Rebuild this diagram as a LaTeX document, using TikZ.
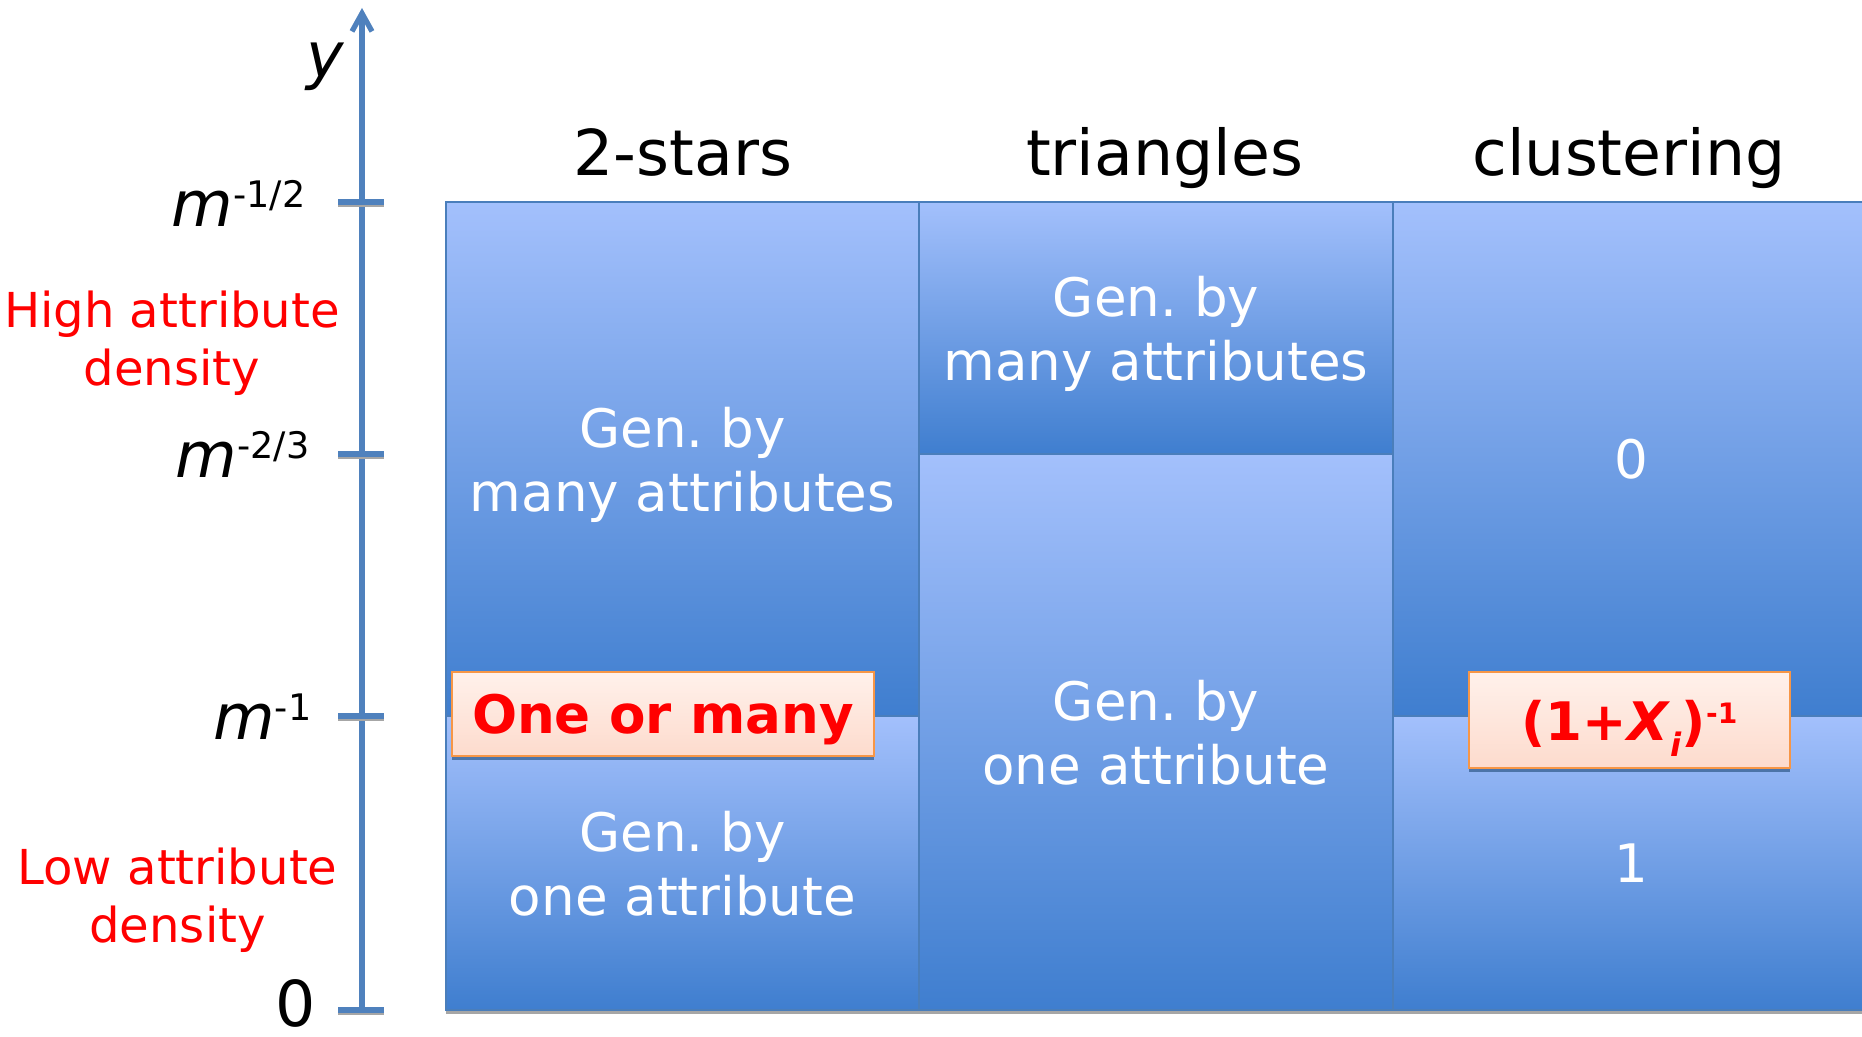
\documentclass[tikz,border=0pt]{standalone}
\usepackage{fontspec}
\setmainfont{DejaVu Sans}
\usetikzlibrary{positioning, arrows.meta, shadows}
\definecolor{celltop}{HTML}{A3C0FC}
\definecolor{cellbottom}{HTML}{3F7ECF}
\definecolor{cellline}{HTML}{4A7EBB}
\definecolor{axisblue}{HTML}{4F81BD}
\definecolor{boxline}{HTML}{F79646}
\definecolor{boxtop}{HTML}{FFF1EB}
\definecolor{boxbottom}{HTML}{FDDBCD}
\newcommand{\sptext}[1]{\raisebox{.31em}{\fontsize{10.4}{12}\selectfont #1}}
\frenchspacing
\tikzset{
	cellnode/.style={
			rectangle,
			draw=cellline,
			line width=0.5pt,
			top color=celltop,
			bottom color=cellbottom,
			text=white,
			align=center,
			inner sep=0pt,
			outer sep=0pt,
			text depth=0pt,
			font=\fontsize{15.1}{18.2}\selectfont,
			drop shadow={shadow xshift=0pt, shadow yshift=-0.04cm, fill=black, opacity=0.35}
		},
	headnode/.style={
			anchor=base,
			inner sep=0pt,
			font=\fontsize{18}{21}\selectfont
		},
	ticklabel/.style={
			anchor=base east,
			inner sep=0pt,
			font=\fontsize{18}{21}\selectfont
		},
	densitynode/.style={
			text=red,
			align=center,
			inner sep=0pt,
			font=\fontsize{13.7}{16.5}\selectfont
		},
	rednote/.style={
			rectangle,
			draw=boxline,
			line width=0.6pt,
			top color=boxtop,
			bottom color=boxbottom,
			text=red,
			inner sep=0pt,
			text depth=0pt,
			font=\fontsize{15.1}{18}\selectfont\bfseries,
			drop shadow={shadow xshift=0pt, shadow yshift=-0.04cm, fill=cellline!80!black, opacity=0.8}
		},
	axisline/.style={
			axisblue,
			line width=1.5pt
		},
	tickline/.style={
			axisblue,
			line width=1.7pt
		},
	tickshadow/.style={
			gray!70,
			line width=1.7pt
		}
}

\begin{document}
\begin{tikzpicture}
\useasboundingbox (0,0) rectangle (18.62,10.37);

\node[cellnode, minimum width=4.73cm, minimum height=5.14cm] (starshi) at (6.825,5.78) {Gen. by\\many attributes};
\node[cellnode, minimum width=4.73cm, minimum height=2.94cm] (starslo) at (6.825,1.74) {Gen. by\\one attribute};
\node[cellnode, minimum width=4.74cm, minimum height=2.52cm] (trihi) at (11.56,7.09) {Gen. by\\many attributes};
\node[cellnode, minimum width=4.74cm, minimum height=5.56cm] (trilo) at (11.56,3.05) {Gen. by\\one attribute};
\node[cellnode, minimum width=4.77cm, minimum height=5.14cm] (clhi) at (16.315,5.78) {0};
\node[cellnode, minimum width=4.77cm, minimum height=2.94cm] (cllo) at (16.315,1.74) {1};

\node[headnode] (hstars) at (6.83,8.61) {2-stars};
\node[headnode] (htri) at (11.645,8.61) {triangles};
\node[headnode] (hcl) at (16.29,8.61) {clustering};

\node[rednote, minimum width=4.22cm, minimum height=0.84cm] (starsnote) at (6.63,3.23) {One or many};
\node[rednote, minimum width=3.21cm, minimum height=0.96cm] (clnote) at (16.295,3.17) {(1+\textit{X}\raisebox{-4.8pt}{\fontsize{9.2}{10}\selectfont\textit{i}})\raisebox{4.8pt}{\fontsize{8}{9}\selectfont -1}};

\coordinate (y0) at (3.62,0.27);
\coordinate (ytop) at (3.62,10.29);
\draw[axisline, -{Straight Barb[length=1.8mm, width=2mm]}] (y0) -- (ytop);

\draw[tickshadow] (3.38,8.33) -- (3.84,8.33);
\draw[tickshadow] (3.38,5.81) -- (3.84,5.81);
\draw[tickshadow] (3.38,3.19) -- (3.84,3.19);
\draw[tickshadow] (3.38,0.25) -- (3.84,0.25);
\draw[tickline] (3.38,8.35) -- (3.84,8.35);
\draw[tickline] (3.38,5.83) -- (3.84,5.83);
\draw[tickline] (3.38,3.21) -- (3.84,3.21);
\draw[tickline] (3.38,0.27) -- (3.84,0.27);

\node[ticklabel] (ylabel) at (3.45,9.59) {\textit{y}};
\node[ticklabel] (lhalf) at (3.06,8.10) {\textit{m}\sptext{-1/2}};
\node[ticklabel] (lthird) at (3.10,5.59) {\textit{m}\sptext{-2/3}};
\node[ticklabel] (lone) at (3.12,2.97) {\textit{m}\sptext{-1}};
\node[ticklabel] (lzero) at (3.16,0.10) {0};

\node[densitynode] (hidens) at (1.72,6.94) {High attribute\\density};
\node[densitynode] (lodens) at (1.775,1.37) {Low attribute\\density};
\end{tikzpicture}
\end{document}
